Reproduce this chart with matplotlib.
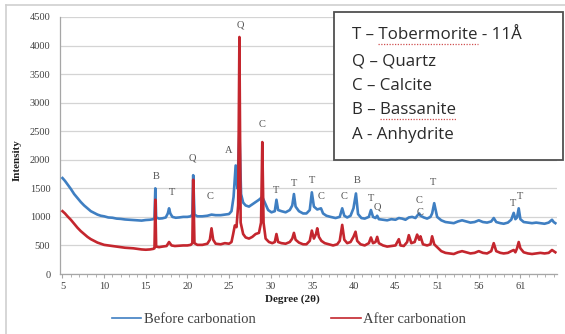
import matplotlib
matplotlib.use("Agg")
import matplotlib.pyplot as plt
from matplotlib.lines import Line2D
from matplotlib.patches import Rectangle

# ---------------- data ----------------
before_deg = [5.0, 5.3, 5.6, 6.0, 6.4, 6.8, 7.2, 7.6, 8.0, 8.4, 8.8, 9.2, 9.6, 10.0, 10.5, 11.0, 11.5,
              12.0, 12.5, 13.0, 13.5, 14.0, 14.5, 15.0, 15.5, 15.9, 16.05, 16.15, 16.25, 16.6, 17.0, 17.4,
              17.65, 17.8, 17.95, 18.2, 18.6, 19.0, 19.5, 20.0, 20.4, 20.6, 20.7, 20.85, 21.2, 21.8, 22.4,
              22.9, 23.4, 24.0, 24.5, 25.0, 25.3, 25.55, 25.8, 26.0, 26.25, 26.45, 26.7, 27.0, 27.4, 27.8,
              28.2, 28.6, 29.0, 29.3, 29.7, 30.1, 30.5, 30.7, 30.9, 31.3, 31.8, 32.3, 32.6, 32.8, 33.0,
              33.4, 33.9, 34.3, 34.7, 34.95, 35.2, 35.6, 36.05, 36.3, 36.7, 37.2, 37.8, 38.3, 38.6, 38.85,
              39.2, 39.6, 39.95, 40.25, 40.5, 40.9, 41.3, 41.8, 42.05, 42.3, 42.6, 42.8, 43.0, 43.5, 44.0,
              44.5, 45.0, 45.4, 45.8, 46.2, 46.6, 47.0, 47.4, 47.6, 47.85, 48.0, 48.4, 48.8, 49.2, 49.4,
              49.65, 50.0, 50.5, 51.0, 51.5, 52.0, 52.5, 53.0, 53.5, 54.0, 54.5, 55.0, 55.5, 56.0, 56.5,
              56.8, 57.1, 57.6, 58.0, 58.5, 58.9, 59.2, 59.4, 59.6, 59.8, 60.0, 60.4, 60.9, 61.4, 61.9,
              62.4, 62.9, 63.4, 63.8, 64.0, 64.2]
before_int = [1680, 1630, 1570, 1490, 1400, 1330, 1260, 1200, 1150, 1100, 1070, 1040, 1020, 1010, 990, 985, 970,
              965, 955, 950, 945, 940, 935, 945, 950, 960, 980, 1500, 990, 970, 975, 990,
              1060, 1150, 1060, 1000, 985, 990, 1000, 1000, 1010, 1040, 1730, 1040, 1010, 1010, 1020,
              1040, 1030, 1030, 1040, 1050, 1100, 1350, 1900, 1500, 2500, 1400, 1250, 1200, 1180, 1220,
              1260, 1300, 1350, 1250, 1120, 1080, 1100, 1300, 1120, 1100, 1080, 1120, 1200, 1400, 1180,
              1100, 1060, 1060, 1120, 1430, 1180, 1130, 1150, 1060, 1020, 1000, 980, 1000, 1150, 1020,
              990, 1020, 1150, 1410, 1050, 980, 970, 1000, 1120, 1000, 980, 1020, 960, 950, 940,
              960, 950, 980, 970, 950, 990, 1000, 980, 1020, 1060, 1020, 990, 970, 1000, 1060,
              1240, 1000, 940, 910, 900, 890, 920, 940, 920, 900, 910, 940, 910, 900, 920,
              980, 910, 890, 880, 900, 950, 1070, 960, 990, 1150, 960, 910, 900, 890, 900,
              890, 880, 900, 950, 910, 890]

after_deg = [5.0, 5.3, 5.6, 6.0, 6.4, 6.8, 7.2, 7.6, 8.0, 8.4, 8.8, 9.2, 9.6, 10.0, 10.5, 11.0, 11.5,
             12.0, 12.5, 13.0, 13.5, 14.0, 14.5, 15.0, 15.5, 15.9, 16.05, 16.15, 16.25, 16.6, 17.0, 17.5,
             17.8, 18.1, 18.5, 19.0, 19.5, 20.0, 20.4, 20.6, 20.7, 20.85, 21.2, 21.8, 22.4, 22.7, 22.9,
             23.1, 23.4, 24.0, 24.5, 25.0, 25.3, 25.5, 25.7, 25.9, 26.1, 26.25, 26.4, 26.7, 27.0, 27.4,
             27.8, 28.2, 28.6, 28.85, 29.0, 29.15, 29.4, 29.8, 30.2, 30.5, 30.7, 30.9, 31.3, 31.8, 32.3,
             32.6, 32.8, 33.0, 33.4, 33.9, 34.3, 34.7, 34.95, 35.2, 35.45, 35.6, 35.8, 36.1, 36.5, 37.0,
             37.5, 38.0, 38.3, 38.6, 38.85, 39.2, 39.6, 39.95, 40.2, 40.4, 40.8, 41.3, 41.8, 42.05, 42.3,
             42.6, 42.8, 43.0, 43.5, 44.0, 44.5, 45.0, 45.4, 45.6, 46.0, 46.4, 46.6, 46.9, 47.3, 47.6,
             47.85, 48.0, 48.3, 48.8, 49.2, 49.4, 49.65, 50.0, 50.5, 51.0, 51.5, 52.0, 52.5, 53.0, 53.5,
             54.0, 54.5, 55.0, 55.5, 56.0, 56.5, 56.8, 57.1, 57.6, 58.0, 58.5, 58.9, 59.2, 59.4, 59.6,
             59.8, 60.0, 60.4, 60.9, 61.4, 61.9, 62.4, 62.9, 63.4, 63.8, 64.0, 64.2]
after_int = [1100, 1060, 1010, 950, 880, 810, 750, 700, 650, 610, 580, 550, 530, 510, 500, 490, 480,
             470, 460, 455, 450, 440, 430, 425, 430, 440, 450, 1300, 480, 470, 480, 490,
             560, 500, 490, 495, 500, 500, 510, 540, 1650, 540, 510, 510, 530, 600, 800,
             600, 530, 520, 540, 530, 560, 700, 850, 820, 1200, 4150, 900, 700, 640, 620,
             650, 700, 720, 900, 2310, 900, 620, 560, 540, 560, 700, 560, 540, 530, 560,
             620, 720, 600, 550, 520, 520, 580, 760, 620, 700, 800, 650, 580, 540, 520,
             500, 520, 580, 860, 600, 540, 560, 650, 740, 580, 520, 500, 540, 640, 540,
             560, 650, 540, 500, 480, 490, 500, 610, 500, 490, 560, 680, 540, 560, 690,
             600, 660, 520, 500, 520, 660, 520, 470, 400, 370, 360, 350, 380, 400, 380,
             360, 370, 400, 370, 360, 400, 540, 400, 370, 360, 370, 400, 420, 380, 450,
             560, 450, 380, 360, 350, 360, 370, 360, 370, 420, 400, 380]

peak_labels = ["B", "T", "Q", "C", "A", "Q", "C", "T", "T", "T", "C", "C", "B", "T", "Q",
               "C", "C", "T", "T", "T"]
peak_deg = [16.3, 18.1, 20.6, 22.7, 25.0, 26.3, 29.0, 30.7, 32.8, 35.0, 36.1, 38.8, 40.4, 42.0, 42.8,
            47.8, 48.0, 49.5, 59.1, 59.9]
peak_int = [1715, 1435, 2030, 1365, 2170, 4360, 2610, 1470, 1590, 1645, 1350, 1365, 1645, 1330, 1170,
            1295, 1085, 1610, 1240, 1365]

xtick_pos = [5, 10, 15, 20, 25, 30, 35, 40, 45, 50, 55, 60]
xtick_labels = ["5", "10", "15", "20", "25", "30", "35", "40", "45", "51", "56", "61"]
yticks = [0, 500, 1000, 1500, 2000, 2500, 3000, 3500, 4000, 4500]

key_prefix = ["T \u2013 ", "Q \u2013 ", "C \u2013 ", "B \u2013 ", "A - "]
key_words = ["Tobermorite", "Quartz", "Calcite", "Bassanite", "Anhydrite"]
key_suffix = [" - 11\u00c5", "", "", "", ""]
key_underlined = [True, False, False, True, False]
series_names = ["Before carbonation", "After carbonation"]

# ---------------- figure ----------------
W, H = 565, 334
fig = plt.figure(figsize=(W / 100, H / 100), dpi=100)
fig.patch.set_facecolor("white")

def fx(px):
    return px / W

def fy(py):
    return 1 - py / H

ax = fig.add_axes([fx(60), fy(274), fx(557) - fx(60), fy(17) - fy(274)])

blue = "#3f7fc2"
red = "#c4262e"
ax.plot(before_deg, before_int, color=blue, lw=1.9, solid_joinstyle="round", zorder=3)
ax.plot(after_deg, after_int, color=red, lw=1.9, solid_joinstyle="round", zorder=4)

ax.set_xlim(4.7, 64.4)
ax.set_ylim(0, 4500)
ax.set_yticks(yticks)
ax.set_xticks(xtick_pos)
ax.set_xticklabels(xtick_labels)
ax.set_xticks(list(range(5, 65)), minor=True)

serif = ["Liberation Serif", "DejaVu Serif"]
for lab in ax.get_xticklabels() + ax.get_yticklabels():
    lab.set_family(serif)
    lab.set_fontsize(7.5)
    lab.set_color("#404040")

ax.grid(axis="y", color="#d4d4d4", lw=0.9, zorder=0)
ax.set_axisbelow(True)
for s in ["top", "right"]:
    ax.spines[s].set_visible(False)
for s in ["left", "bottom"]:
    ax.spines[s].set_color("#a6a6a6")
    ax.spines[s].set_linewidth(0.9)
ax.tick_params(axis="y", length=0, pad=7)
ax.tick_params(axis="x", which="major", length=3, color="#a6a6a6", pad=3)
ax.tick_params(axis="x", which="minor", length=2, color="#a6a6a6")

for t, d, v in zip(peak_labels, peak_deg, peak_int):
    ax.text(d, v, t, ha="center", va="center", fontsize=7.5, family=serif,
            color="#505050", zorder=5, clip_on=False)

# axis titles
fig.text(fx(17), fy(160), "Intensity", rotation=90, ha="center", va="center",
         fontsize=8, fontweight="bold", family=serif, color="#202020")
fig.text(fx(292), fy(299), "Degree (2\u03b8)", ha="center", va="center",
         fontsize=8, fontweight="bold", family=serif, color="#202020")

# key box
box = Rectangle((fx(334), fy(160)), fx(563) - fx(334), fy(12) - fy(160),
                transform=fig.transFigure, facecolor="white", edgecolor="#505050",
                lw=1.3, zorder=10)
fig.patches.append(box)
key_y = [35, 61, 86, 110, 135]
key_font = dict(fontsize=12.2, family=["Open Sans", "DejaVu Sans"], color="#2a2a2a", zorder=11)
renderer = fig.canvas.get_renderer()
for pre, word, suf, und, py in zip(key_prefix, key_words, key_suffix, key_underlined, key_y):
    full = fig.text(fx(352), fy(py), pre + word + suf, ha="left", va="center", **key_font)
    if und:
        tmp = fig.text(fx(352), fy(py), pre, ha="left", va="center", **key_font)
        x0 = tmp.get_window_extent(renderer).x1
        tmp.remove()
        tmp = fig.text(fx(352), fy(py), pre + word, ha="left", va="center", **key_font)
        x1 = tmp.get_window_extent(renderer).x1
        tmp.remove()
        fig.add_artist(Line2D([x0 / W, x1 / W], [fy(py + 9), fy(py + 9)],
                              transform=fig.transFigure, color="#d05050", lw=0.9,
                              ls=(0, (1, 1.2)), zorder=12))

# legend
handles = [Line2D([], [], color=blue, lw=1.2), Line2D([], [], color=red, lw=1.2)]
leg = fig.legend(handles, series_names, loc="center", bbox_to_anchor=(fx(289), fy(319)),
                 ncol=2, frameon=False, handlelength=2.0, handletextpad=0.2,
                 columnspacing=5.2, prop={"family": serif, "size": 10.5})
for t in leg.get_texts():
    t.set_color("#404040")

# outer chart border
fig.add_artist(Line2D([fx(6), fx(6)], [fy(5), 0], transform=fig.transFigure,
                      color="#cfcfcf", lw=1.2))
fig.add_artist(Line2D([fx(6), 1], [fy(5), fy(5)], transform=fig.transFigure,
                      color="#cfcfcf", lw=1.2))

fig.savefig("out.png", dpi=100, facecolor="white")
